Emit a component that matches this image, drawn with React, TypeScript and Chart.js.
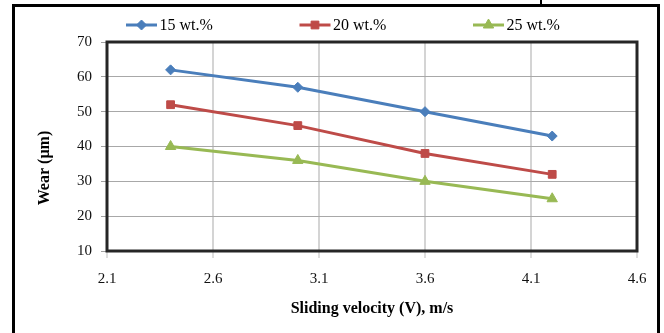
import React, { useEffect, useRef } from "react";
import { Chart, registerables } from "chart.js";
import { drawPoint } from "chart.js/helpers";

Chart.register(...registerables);

// ---- data ----
const velocities = [2.4, 3.0, 3.6, 4.2];
const seriesLabels = ["15 wt.%", "20 wt.%", "25 wt.%"];
const wear15 = [62, 57, 50, 43];
const wear20 = [52, 46, 38, 32];
const wear25 = [40, 36, 30, 25];
const xTicks = [2.1, 2.6, 3.1, 3.6, 4.1, 4.6];
const yTicks = [10, 20, 30, 40, 50, 60, 70];
const xTitle = "Sliding velocity (V), m/s";
const yTitle = "Wear (µm)";

const colors = ["#4A7EBB", "#BE4B48", "#98B954"];
const markers = ["rectRot", "rect", "triangle"];
const radii = [5, 5.5, 6];
const FONT = "'Liberation Serif', 'Times New Roman', serif";

const legendPlugin = {
  id: "customLegend",
  afterDraw(chart: any) {
    const ctx = chart.ctx;
    const x0 = 126;
    const step = 173.5;
    const y = 25;
    chart.data.datasets.forEach((ds: any, i: number) => {
      const x = x0 + i * step;
      ctx.save();
      ctx.strokeStyle = ds.borderColor;
      ctx.lineWidth = 3;
      ctx.beginPath();
      ctx.moveTo(x, y);
      ctx.lineTo(x + 31, y);
      ctx.stroke();
      ctx.fillStyle = ds.pointBackgroundColor;
      ctx.strokeStyle = ds.pointBorderColor;
      ctx.lineWidth = 1;
      drawPoint(ctx, { pointStyle: ds.pointStyle, radius: ds.pointRadius, rotation: 0, borderWidth: 1 }, x + 15.5, y);
      ctx.fillStyle = "#000";
      ctx.font = `16px ${FONT}`;
      ctx.textBaseline = "middle";
      ctx.textAlign = "left";
      ctx.fillText(ds.label, x + 33.5, y + 1);
      ctx.restore();
    });
  },
};

const framePlugin = {
  id: "frameAndTitle",
  beforeDatasetsDraw(chart: any) {
    const { ctx, chartArea } = chart;
    ctx.save();
    ctx.strokeStyle = "#262626";
    ctx.lineWidth = 3;
    ctx.strokeRect(chartArea.left, chartArea.top, chartArea.right - chartArea.left, chartArea.bottom - chartArea.top);
    ctx.restore();
  },
  afterDraw(chart: any) {
    const ctx = chart.ctx;
    ctx.save();
    ctx.translate(45, 168);
    ctx.rotate(-Math.PI / 2);
    ctx.font = `bold 16px ${FONT}`;
    ctx.fillStyle = "#000";
    ctx.textAlign = "center";
    ctx.textBaseline = "middle";
    ctx.fillText(yTitle, 0, 0);
    ctx.restore();
  },
};

export default function App() {
  const ref = useRef<HTMLCanvasElement | null>(null);

  useEffect(() => {
    if (!ref.current) return;
    const all = [wear15, wear20, wear25];
    const chart = new Chart(ref.current, {
      type: "line",
      data: {
        datasets: all.map((vals, i) => ({
          label: seriesLabels[i],
          data: velocities.map((v, j) => ({ x: v, y: vals[j] })),
          borderColor: colors[i],
          backgroundColor: colors[i],
          pointBackgroundColor: colors[i],
          pointBorderColor: colors[i],
          pointStyle: markers[i],
          pointRadius: radii[i],
          pointBorderWidth: 1,
          borderWidth: 3,
          tension: 0,
          fill: false,
        })),
      },
      options: {
        responsive: false,
        animation: false,
        devicePixelRatio: 1,
        layout: { padding: { left: 20, right: 27, top: 42, bottom: 0 } },
        plugins: {
          legend: { display: false },
          tooltip: { enabled: false },
        },
        scales: {
          x: {
            type: "linear",
            min: xTicks[0],
            max: xTicks[xTicks.length - 1],
            afterBuildTicks: (s: any) => {
              s.ticks = xTicks.map((v) => ({ value: v }));
            },
            afterFit: (s: any) => {
              s.height = 82;
            },
            grid: { color: "#d4d4d4", lineWidth: 2, tickLength: 7, tickColor: "#bdbdbd", tickWidth: 1 },
            border: { display: false },
            ticks: {
              color: "#111",
              font: { family: FONT, size: 15 },
              padding: 12,
              maxRotation: 0,
              callback: (v: any) => Number(v).toFixed(1),
            },
            title: {
              display: true,
              text: xTitle,
              color: "#000",
              font: { family: FONT, size: 16, weight: "bold" },
              padding: { top: 0, bottom: 15 },
            },
          },
          y: {
            type: "linear",
            min: yTicks[0],
            max: yTicks[yTicks.length - 1],
            afterBuildTicks: (s: any) => {
              s.ticks = yTicks.map((v) => ({ value: v }));
            },
            afterFit: (s: any) => {
              s.width = 87;
            },
            grid: { color: "#a8a8a8", lineWidth: 1, tickLength: 6, tickColor: "#a0a0a0" },
            border: { display: false },
            ticks: {
              color: "#111",
              font: { family: FONT, size: 15 },
              padding: 9,
            },
          },
        },
      },
      plugins: [framePlugin, legendPlugin],
    } as any);
    return () => chart.destroy();
  }, []);

  return (
    <div style={{ position: "fixed", left: 0, top: 0, width: 664, height: 333, overflow: "hidden", background: "#fff" }}>
      <div
        style={{
          position: "absolute",
          left: 12,
          top: 4,
          width: 648,
          height: 400,
          border: "3px solid #000",
          boxSizing: "border-box",
        }}
      />
      <div style={{ position: "absolute", left: 540, top: 0, width: 2, height: 5, background: "#000" }} />
      <canvas ref={ref} width={664} height={333} style={{ position: "absolute", left: 0, top: 0, width: 664, height: 333, display: "block" }} />
    </div>
  );
}
